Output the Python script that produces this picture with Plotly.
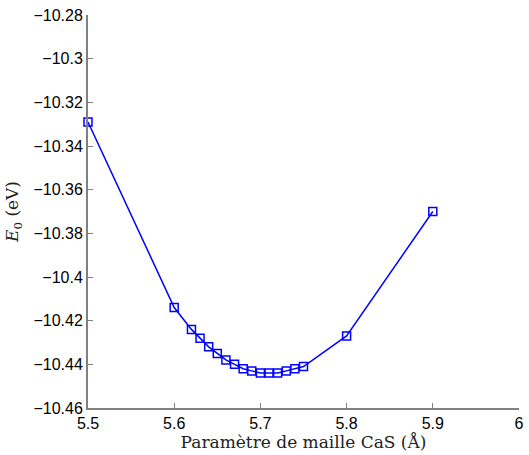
import plotly.graph_objects as go

lattice = [5.5, 5.6, 5.62, 5.63, 5.64, 5.65, 5.66, 5.67, 5.68, 5.69, 5.70, 5.71, 5.72, 5.73, 5.74, 5.75, 5.8, 5.9]
energy = [-10.329, -10.414, -10.424, -10.428, -10.432, -10.435, -10.438, -10.440, -10.442, -10.443,
          -10.444, -10.444, -10.444, -10.443, -10.442, -10.441, -10.427, -10.370]

x_ticks = [5.5, 5.6, 5.7, 5.8, 5.9, 6.0]
x_ticktext = ["5.5", "5.6", "5.7", "5.8", "5.9", "6"]
y_ticks = [-10.28, -10.30, -10.32, -10.34, -10.36, -10.38, -10.40, -10.42, -10.44, -10.46]
y_ticktext = ["−10.28", "−10.3", "−10.32", "−10.34", "−10.36", "−10.38", "−10.4", "−10.42", "−10.44", "−10.46"]

fig = go.Figure()
fig.add_trace(go.Scatter(
    x=lattice, y=energy, mode="lines+markers",
    line=dict(color="#0000ff", width=1.5),
    marker=dict(symbol="square-open", size=8, color="#0000ff", line=dict(width=1.5, color="#0000ff")),
    showlegend=False, cliponaxis=False,
))

tickfont = dict(family="Liberation Sans, Arial, sans-serif", size=16, color="black")
titlefont = dict(family="DejaVu Serif, Liberation Serif, serif", size=17, color="#222")
fig.update_layout(
    width=529, height=455,
    margin=dict(l=88, r=10, t=15, b=47),
    paper_bgcolor="white", plot_bgcolor="white",
    xaxis=dict(range=[5.5, 6.0], tickvals=x_ticks, ticktext=x_ticktext, automargin=False,
               ticks="inside", ticklen=5, tickcolor="#808080", tickwidth=1,
               showline=True, linecolor="#808080", linewidth=2,
               showgrid=False, zeroline=False, tickfont=tickfont,
               title=dict(text="Paramètre de maille CaS (Å)", standoff=0, font=titlefont)),
    yaxis=dict(range=[-10.46, -10.28], tickvals=y_ticks, ticktext=y_ticktext, automargin=False,
               ticks="inside", ticklen=5, tickcolor="#808080", tickwidth=1,
               showline=True, linecolor="#808080", linewidth=2,
               showgrid=False, zeroline=False, tickfont=tickfont,
               title=dict(text="<i>E</i><sub>0</sub> (eV)", standoff=10, font=titlefont)),
)

fig.write_html("out.html", config={"displayModeBar": False},
               post_script="document.body.style.margin='0';document.body.style.padding='0';")
